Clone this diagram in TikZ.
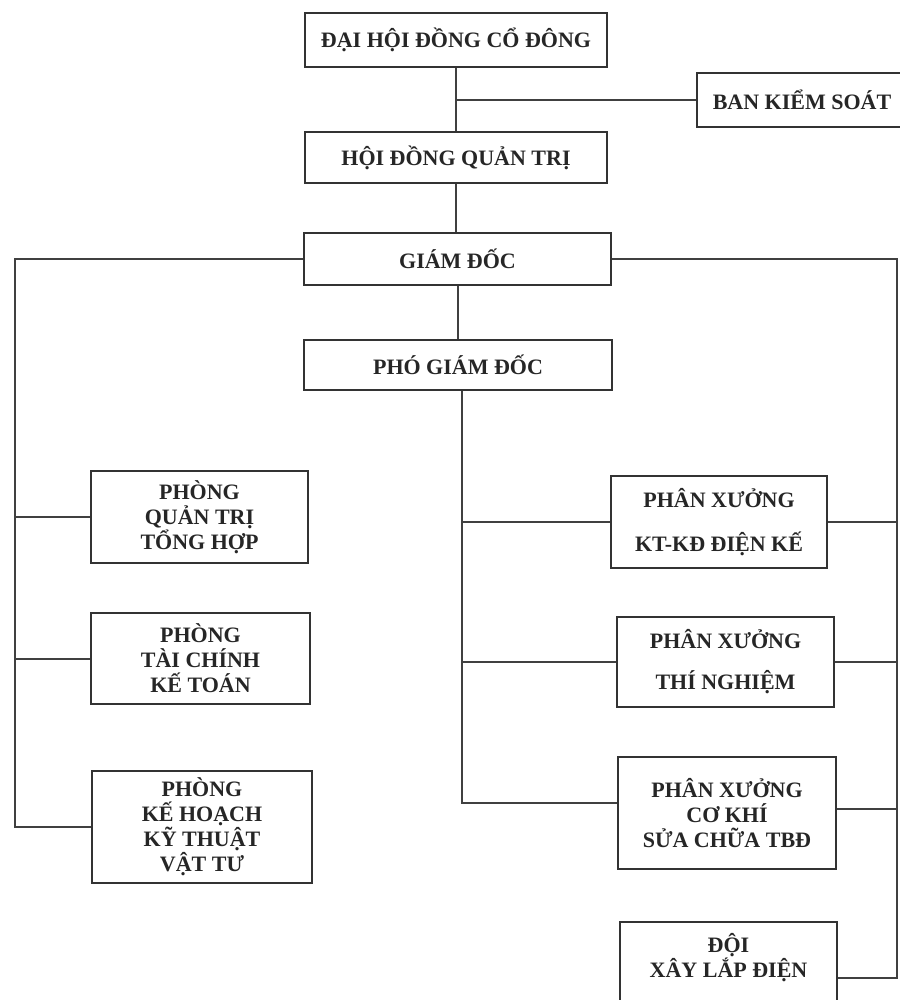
\documentclass[tikz,border=0pt]{standalone}
\usepackage{fontspec}
\setmainfont{Liberation Serif}
\usetikzlibrary{calc}
\begin{document}
\begin{tikzpicture}[x=1pt,y=-1pt,
  orgbox/.style={draw=black!80, line width=2.2pt, fill=white, align=center, inner sep=0pt,
    text=black!85, font=\fontsize{22}{25}\selectfont\bfseries},
  orgtext/.style={align=center, inner sep=0pt, text=black!85, font=\fontsize{22}{25}\selectfont\bfseries},
  link/.style={draw=black!75, line width=2pt}]
\useasboundingbox (0,0) rectangle (899,1000);
\fill[white] (0,0) rectangle (899,1000);
% coordinates of the buses
\coordinate (ltop) at (15,0);
\coordinate (rtop) at (897,0);
\coordinate (mtop) at (462,0);
% nodes
\node[orgbox, minimum width=302pt, minimum height=54pt] (dhd) at (456,40) {ĐẠI HỘI ĐỒNG CỔ ĐÔNG};
\node[orgbox, minimum width=210pt, minimum height=54pt] (bks) at (802,100) {BAN KIỂM SOÁT};
\node[orgbox, minimum width=302pt, minimum height=51pt] (hdqt) at (456,157.5) {HỘI ĐỒNG QUẢN TRỊ};
\node[orgbox, minimum width=307pt, minimum height=52pt] (gd) at (457.5,259) {GIÁM ĐỐC};
\node[orgbox, minimum width=308pt, minimum height=50pt] (pgd) at (458,365) {PHÓ GIÁM ĐỐC};
\node[orgbox, minimum width=217pt, minimum height=92pt] (pqt) at (199.5,517) {PHÒNG\\QUẢN TRỊ\\TỔNG HỢP};
\node[orgbox, minimum width=219pt, minimum height=91pt] (ptc) at (200.5,658.5) {PHÒNG\\TÀI CHÍNH\\KẾ TOÁN};
\node[orgbox, minimum width=220pt, minimum height=112pt] (pkh) at (202,827) {PHÒNG\\KẾ HOẠCH\\KỸ THUẬT\\VẬT TƯ};
\node[orgbox, minimum width=216pt, minimum height=92pt] (px1) at (719,522) {PHÂN XƯỞNG\\[19pt]KT-KĐ ĐIỆN KẾ};
\node[orgbox, minimum width=217pt, minimum height=90pt] (px2) at (725.5,662) {PHÂN XƯỞNG\\[16pt]THÍ NGHIỆM};
\node[orgbox, minimum width=218pt, minimum height=112pt] (px3) at (727,813) {PHÂN XƯỞNG\\CƠ KHÍ\\SỬA CHỮA TBĐ};
\node[orgbox, minimum width=217pt, minimum height=112pt] (doi) at (728.5,978) {};
\node[orgtext] (doitext) at ($(doi.north)+(0,37)$) {ĐỘI\\XÂY LẮP ĐIỆN};
% connectors
\draw[link] (dhd.south) -- (hdqt.south |- hdqt.north);
\draw[link] (dhd.south |- bks.west) -- (bks.west);
\draw[link] (hdqt.south) -- (hdqt.south |- gd.north);
\draw[link] (gd.south) -- (gd.south |- pgd.north);
% left bus
\draw[link] (gd.west) -| (ltop |- pkh.west) -- (pkh.west);
\draw[link] (ltop |- pqt.west) -- (pqt.west);
\draw[link] (ltop |- ptc.west) -- (ptc.west);
% right bus
\draw[link] (gd.east) -| (rtop |- doi.east) -- (doi.east);
\draw[link] (px1.east) -- (rtop |- px1.east);
\draw[link] (px2.east) -- (rtop |- px2.east);
\draw[link] ($(px3.east)+(0,-4)$) -- (rtop |- {$(px3.east)+(0,-4)$});
% middle bus
\draw[link] (pgd.south -| mtop) |- ($(px3.west)+(0,-10)$);
\draw[link] (mtop |- px1.west) -- (px1.west);
\draw[link] (mtop |- px2.west) -- (px2.west);
\end{tikzpicture}
\end{document}
